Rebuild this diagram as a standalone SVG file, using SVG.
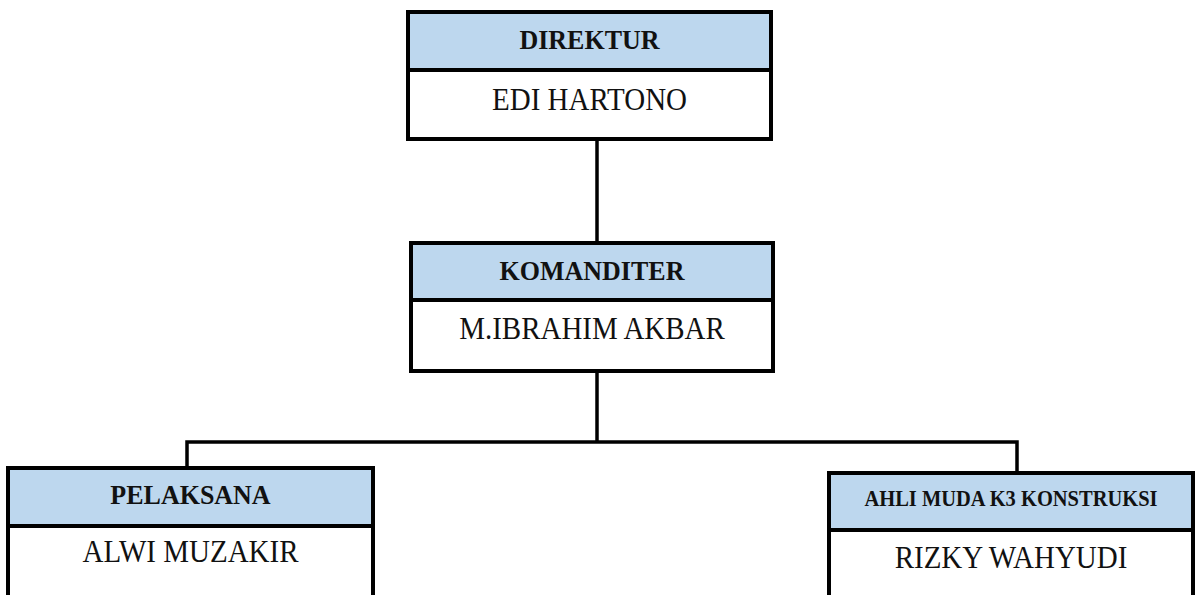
<svg xmlns="http://www.w3.org/2000/svg" width="1200" height="595" viewBox="0 0 1200 595">
<style>
.box{fill:#fff;stroke:#000;stroke-width:4}
.hdr{fill:#BDD7EE;stroke:#000;stroke-width:4}
.t{font-family:"Liberation Serif","Times New Roman",serif;text-anchor:middle;fill:#111}
.b{font-weight:bold;font-size:26px}
.r{font-size:29px}
.conn{fill:none;stroke:#000;stroke-width:3.5}
</style>
<rect width="1200" height="595" fill="#fff"/>
<g id="connectors">
<line class="conn" x1="597" y1="139" x2="597" y2="243"/>
<line class="conn" x1="597" y1="371" x2="597" y2="442"/>
<polyline class="conn" points="187,468 187,442 1017,442 1017,473"/>
</g>
<g id="direktur">
<rect class="box" x="408" y="12" width="363" height="127"/>
<rect class="hdr" x="408" y="12" width="363" height="58"/>
<text class="t b" transform="translate(589.5,49) scale(1,1.08)">DIREKTUR</text>
<text class="t r" transform="translate(589.5,110) scale(1,1.1)">EDI HARTONO</text>
</g>
<g id="komanditer">
<rect class="box" x="411" y="243" width="362" height="128"/>
<rect class="hdr" x="411" y="243" width="362" height="57"/>
<text class="t b" transform="translate(592,280) scale(1,1.08)">KOMANDITER</text>
<text class="t r" transform="translate(592,339) scale(1,1.1)">M.IBRAHIM AKBAR</text>
</g>
<g id="pelaksana">
<rect class="box" x="8" y="468" width="365" height="140"/>
<rect class="hdr" x="8" y="468" width="365" height="58"/>
<text class="t b" transform="translate(190.5,504) scale(1,1.08)">PELAKSANA</text>
<text class="t r" transform="translate(190.5,562) scale(1,1.1)">ALWI MUZAKIR</text>
</g>
<g id="ahli">
<rect class="box" x="829" y="473" width="364" height="140"/>
<rect class="hdr" x="829" y="473" width="364" height="57"/>
<text class="t" transform="translate(1011,506) scale(1,1.08)" style="font-weight:bold;font-size:20.5px">AHLI MUDA K3 KONSTRUKSI</text>
<text class="t r" transform="translate(1011,568) scale(1,1.1)">RIZKY WAHYUDI</text>
</g>
</svg>
